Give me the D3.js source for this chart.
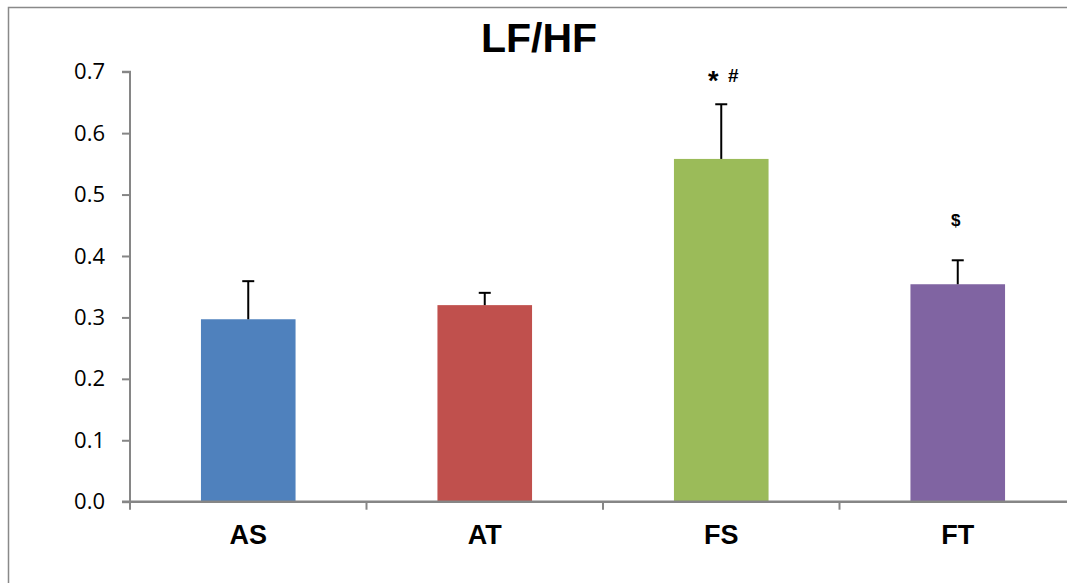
<!DOCTYPE html>
<html>
<head>
<meta charset="utf-8">
<script src="https://cdn.jsdelivr.net/npm/d3@7"></script>
<style>
  html, body { margin: 0; padding: 0; background: #fff; }
  svg { display: block; }
</style>
</head>
<body>
<svg id="chart" width="1067" height="583"></svg>
<script>
// LF/HF ratio per group, mean and upper error
const categories = ["AS", "AT", "FS", "FT"];
const means = [0.297, 0.320, 0.558, 0.354];
const errorTops = [0.359, 0.340, 0.647, 0.393];
const marks = ["", "", "* #", "$"];
const colors = ["#4F81BD", "#C0504D", "#9BBB59", "#8064A2"];
const yTicks = [0, 0.1, 0.2, 0.3, 0.4, 0.5, 0.6, 0.7];

const svg = d3.select("#chart");

// outer chart frame
svg.append("path")
  .attr("d", "M8.5,583 V7.5 H1067")
  .attr("fill", "none")
  .attr("stroke", "#898989")
  .attr("stroke-width", 1.5);

const x = d3.scaleBand().domain(categories).range([130, 1076]).padding(0);
const y = d3.scaleLinear().domain([0, 0.7]).range([501.7, 71.7]);
const barW = x.bandwidth() * 0.4;

// title
svg.append("text")
  .attr("x", 539).attr("y", 52)
  .attr("text-anchor", "middle")
  .attr("font-family", "Liberation Sans, Arial, sans-serif")
  .attr("font-weight", "bold")
  .attr("font-size", 41)
  .attr("fill", "#000")
  .text("LF/HF");

// bars
svg.selectAll("rect.bar").data(categories).enter().append("rect")
  .attr("class", "bar")
  .attr("x", d => x(d) + (x.bandwidth() - barW) / 2)
  .attr("width", barW)
  .attr("y", (d, i) => y(means[i]))
  .attr("height", (d, i) => y(0) - y(means[i]))
  .attr("fill", (d, i) => colors[i]);

// error bars
const eb = svg.selectAll("g.err").data(categories).enter().append("g").attr("class", "err");
eb.append("line")
  .attr("x1", d => x(d) + x.bandwidth() / 2)
  .attr("x2", d => x(d) + x.bandwidth() / 2)
  .attr("y1", (d, i) => y(means[i]))
  .attr("y2", (d, i) => y(errorTops[i]))
  .attr("stroke", "#000").attr("stroke-width", 2);
eb.append("line")
  .attr("x1", d => x(d) + x.bandwidth() / 2 - 6)
  .attr("x2", d => x(d) + x.bandwidth() / 2 + 6)
  .attr("y1", (d, i) => y(errorTops[i]))
  .attr("y2", (d, i) => y(errorTops[i]))
  .attr("stroke", "#000").attr("stroke-width", 2);

// significance marks; the asterisk is drawn larger, as a centred star
const markG = svg.selectAll("text.mark").data(categories).enter().append("text")
  .attr("class", "mark")
  .attr("x", d => x(d) + x.bandwidth() / 2 + (d === "FS" ? 2 : -2))
  .attr("y", d => d === "FS" ? 82 : 226)
  .attr("text-anchor", "middle")
  .attr("font-family", "Liberation Sans, Arial, sans-serif")
  .attr("font-weight", "bold")
  .attr("font-size", 17)
  .attr("fill", "#000");
markG.each(function(d, i) {
  const t = d3.select(this);
  const parts = marks[i].split(" ");
  parts.forEach(p => {
    if (p === "*") {
      t.append("tspan").attr("font-size", 27).attr("dy", 8).text(p);
      t.append("tspan").attr("font-size", 17).attr("dy", -8).text("\u00a0\u00a0");
    } else if (p === "#") {
      t.append("tspan").attr("font-size", 19).text(p);
    } else {
      t.append("tspan").text(p);
    }
  });
});

// y axis
const yAxis = svg.append("g")
  .attr("transform", "translate(130,0)")
  .call(d3.axisLeft(y).tickValues(yTicks).tickFormat(d3.format(".1f")).tickSize(8).tickPadding(17));
yAxis.select(".domain").attr("stroke", "#868686").attr("stroke-width", 2)
  .attr("d", `M-8,${y(0.7)}H0V${y(0)}`);
yAxis.selectAll(".tick line").attr("stroke", "#868686").attr("stroke-width", 2);
yAxis.selectAll(".tick text")
  .attr("font-family", "Open Sans, sans-serif")
  .attr("font-size", 22)
  .attr("fill", "#000");

// x axis with boundary ticks
const xAxisG = svg.append("g");
xAxisG.append("line")
  .attr("x1", 122).attr("x2", 1076)
  .attr("y1", y(0)).attr("y2", y(0))
  .attr("stroke", "#868686").attr("stroke-width", 2.5);
const bounds = categories.map(d => x(d)).concat([x.range()[1]]);
xAxisG.selectAll("line.xt").data(bounds).enter().append("line")
  .attr("class", "xt")
  .attr("x1", d => d).attr("x2", d => d)
  .attr("y1", y(0)).attr("y2", y(0) + 8)
  .attr("stroke", "#868686").attr("stroke-width", 2);
xAxisG.selectAll("text.xl").data(categories).enter().append("text")
  .attr("class", "xl")
  .attr("x", d => x(d) + x.bandwidth() / 2)
  .attr("y", 544)
  .attr("text-anchor", "middle")
  .attr("font-family", "Liberation Sans, Arial, sans-serif")
  .attr("font-weight", "bold")
  .attr("font-size", 27)
  .attr("fill", "#000")
  .text(d => d);
</script>
</body>
</html>
